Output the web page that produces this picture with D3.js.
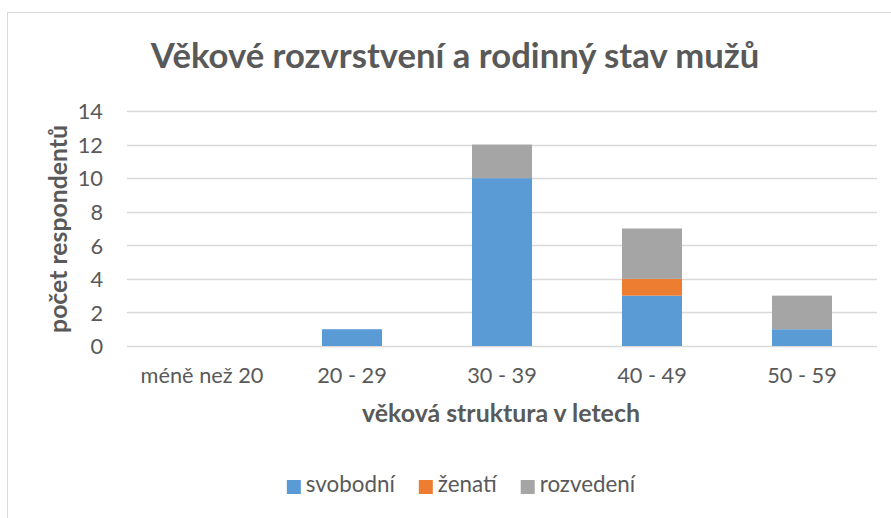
<!DOCTYPE html>
<html><head><meta charset="utf-8">
<script src="https://cdn.jsdelivr.net/npm/d3@7"></script>
<style>body{margin:0;background:#fff}svg{display:block}text{font-family:Lato,"Open Sans",sans-serif;fill:#595959}</style>
</head><body>
<svg id="c" width="891" height="518"></svg>
<script>
const categories = ["méně než 20","20 - 29","30 - 39","40 - 49","50 - 59"];
const seriesNames = ["svobodní","ženatí","rozvedení"];
const svobodni = [0,1,10,3,1];
const zenati = [0,0,0,1,0];
const rozvedeni = [0,0,2,3,2];
const yTicks = [0,2,4,6,8,10,12,14];
const colors = ["#5B9BD5","#ED7D31","#A5A5A5"];
const titleText = "Věkové rozvrstvení a rodinný stav mužů";
const xTitle = "věková struktura v letech";
const yTitle = "počet respondentů";

const FONT = "Lato";
const svg = d3.select("#c");
function fit(sel, w){ const n=sel.node(); const fs=parseFloat(sel.attr("font-size")); const L=n.getComputedTextLength(); sel.attr("font-size", fs*w/L); }

svg.append("rect").attr("x",7.5).attr("y",12.5).attr("width",950).attr("height",600)
  .attr("fill","#fff").attr("stroke","#D9D9D9").attr("stroke-width",1);

const x = d3.scaleBand().domain(categories).range([127,877]).paddingInner(0.6).paddingOuter(0.3);
const y = d3.scaleLinear().domain([0,14]).range([346,111]);

svg.append("g").selectAll("line").data(yTicks).join("line")
  .attr("x1",127).attr("x2",877).attr("y1",d=>Math.round(y(d))+0.5).attr("y2",d=>Math.round(y(d))+0.5)
  .attr("stroke","#D9D9D9").attr("stroke-width",1.5);

const table = categories.map((c,i)=>({cat:c, "svobodní":svobodni[i], "ženatí":zenati[i], "rozvedení":rozvedeni[i]}));
const stack = d3.stack().keys(seriesNames)(table);
svg.append("g").selectAll("g").data(stack).join("g").attr("fill",(d,i)=>colors[i])
  .selectAll("rect").data(d=>d).join("rect")
  .attr("x",d=>x(d.data.cat)).attr("width",x.bandwidth())
  .attr("y",d=>y(d[1])).attr("height",d=>y(d[0])-y(d[1]));

const ya = d3.axisLeft(y).tickValues(yTicks).tickSize(0).tickPadding(0);
const yg = svg.append("g").attr("transform","translate(103,0)").call(ya);
yg.select(".domain").remove();
yg.selectAll("text").attr("font-size",18).attr("fill","#595959").attr("font-family",FONT).attr("dy","0.36em");
const xa = d3.axisBottom(x).tickSize(0).tickPadding(0);
const xg = svg.append("g").attr("transform","translate(0,368)").call(xa);
xg.select(".domain").remove();
xg.selectAll("text").attr("font-size",18).attr("fill","#595959").attr("font-family",FONT).attr("dy","0.71em");

const fsTick = 18*123/xg.select("text").node().getComputedTextLength();
xg.selectAll("text").attr("font-size",fsTick);
yg.selectAll("text").attr("font-size",fsTick);

const t = svg.append("text").attr("x",455).attr("y",68).attr("text-anchor","middle")
  .attr("font-weight","bold").attr("font-size",30).text(titleText);
fit(t,609);
const xt = svg.append("text").attr("x",501).attr("y",422).attr("text-anchor","middle")
  .attr("font-weight","bold").attr("font-size",18).text(xTitle);
fit(xt,278);
const yt = svg.append("text").attr("transform","translate(67,229) rotate(-90)").attr("text-anchor","middle")
  .attr("font-weight","bold").attr("font-size",18).text(yTitle);
fit(yt,208);

const lg = svg.append("g");
const items = lg.selectAll("g").data(seriesNames).join("g");
items.append("rect").attr("width",14).attr("height",14).attr("y",480).attr("fill",(d,i)=>colors[i]);
const lt = items.append("text").attr("x",19).attr("y",492).attr("font-size",18).text(d=>d);
const f0 = 18*89/lt.node().getComputedTextLength();
lt.attr("font-size",f0);
let cx = 0; const pos=[];
lt.each(function(d,i){ pos.push(cx); cx += 19 + this.getComputedTextLength() + 24; });
const total = cx - 24;
const start = 461 - total/2;
items.attr("transform",(d,i)=>`translate(${start+pos[i]},0)`);
</script>
</body></html>
